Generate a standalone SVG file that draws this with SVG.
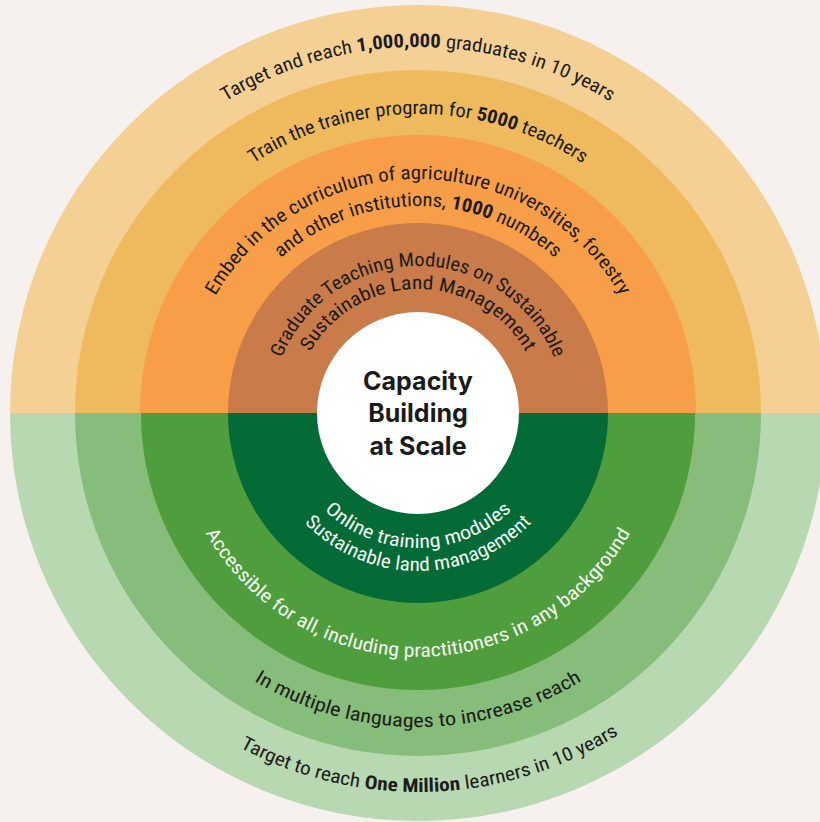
<svg xmlns="http://www.w3.org/2000/svg" width="820" height="822" viewBox="0 0 820 822">
  <style>
    .lbl { font-family: Roboto, "Noto Sans", "Liberation Sans", sans-serif; font-size: 19px; font-stretch: condensed; fill: #1c1c1c; }
    .wht { fill: #f2f7f0; }
    .b { font-weight: 700; }
    .ctr { font-family: Inter, "Noto Sans", "Liberation Sans", sans-serif; font-size: 25px; font-weight: 700; fill: #1a1a1a; text-anchor: middle; }
  </style>
  <defs>
    <path id="pT1" d="M 52 413 A 366 366 0 0 1 784 413"/>
    <path id="pT2" d="M 119 413 A 299 299 0 0 1 717 413"/>
    <path id="pT3a" d="M 184 413 A 234 234 0 0 1 652 413"/>
    <path id="pT3b" d="M 211 413 A 207 207 0 0 1 625 413"/>
    <path id="pT4a" d="M 271 413 A 147 147 0 0 1 565 413"/>
    <path id="pT4b" d="M 294 413 A 124 124 0 0 1 542 413"/>
    <path id="pB4a" d="M 283 413 A 135 135 0 0 0 553 413"/>
    <path id="pB4b" d="M 260 413 A 158 158 0 0 0 576 413"/>
    <path id="pB3" d="M 174 413 A 244 244 0 0 0 662 413"/>
    <path id="pB2" d="M 104 413 A 314 314 0 0 0 732 413"/>
    <path id="pB1" d="M 39 413 A 379 379 0 0 0 797 413"/>
  </defs>
  <rect width="820" height="822" fill="#f6f1ee"/>

  <g id="ring1">
    <path d="M 10 413 A 408 408 0 0 1 826 413 Z" fill="#f5d094"/>
    <path d="M 10 413 A 408 408 0 0 0 826 413 Z" fill="#b8d8b2"/>
  </g>
  <g id="ring2">
    <path d="M 75 413 A 343 343 0 0 1 761 413 Z" fill="#efba5e"/>
    <path d="M 75 413 A 343 343 0 0 0 761 413 Z" fill="#86bd7a"/>
  </g>
  <g id="ring3">
    <path d="M 140 413 A 278 278 0 0 1 696 413 Z" fill="#f89e49"/>
    <path d="M 141 413 A 277 277 0 0 0 695 413 Z" fill="#4f9d3d"/>
  </g>
  <g id="ring4">
    <path d="M 228 413 A 190 190 0 0 1 608 413 Z" fill="#c97b4a"/>
    <path d="M 228 413 A 190 190 0 0 0 608 413 Z" fill="#046a36"/>
  </g>
  <g id="center">
    <circle cx="418" cy="413" r="101" fill="#ffffff"/>
    <text class="ctr" x="418" y="390">Capacity</text>
    <text class="ctr" x="418" y="422">Building</text>
    <text class="ctr" x="418" y="455">at Scale</text>
  </g>

  <g id="top-labels">
    <text class="lbl"><textPath href="#pT1" startOffset="50%" text-anchor="middle" textLength="405" lengthAdjust="spacingAndGlyphs">Target and reach <tspan class="b">1,000,000</tspan> graduates in 10 years</textPath></text>
    <text class="lbl"><textPath href="#pT2" startOffset="50%" text-anchor="middle" textLength="349" lengthAdjust="spacingAndGlyphs">Train the trainer program for <tspan class="b">5000</tspan> teachers</textPath></text>
    <text class="lbl"><textPath href="#pT3a" startOffset="50%" text-anchor="middle" textLength="490" lengthAdjust="spacingAndGlyphs">Embed in the curriculum of agriculture universities, forestry</textPath></text>
    <text class="lbl"><textPath href="#pT3b" startOffset="50%" text-anchor="middle" textLength="300" lengthAdjust="spacingAndGlyphs">and other institutions, <tspan class="b">1000</tspan> numbers</textPath></text>
    <text class="lbl"><textPath href="#pT4a" startOffset="50%" text-anchor="middle" textLength="349" lengthAdjust="spacingAndGlyphs">Graduate Teaching Modules on Sustainable</textPath></text>
    <text class="lbl"><textPath href="#pT4b" startOffset="50%" text-anchor="middle" textLength="262" lengthAdjust="spacingAndGlyphs">Sustainable Land Management</textPath></text>
  </g>

  <g id="bottom-labels">
    <text class="lbl wht"><textPath href="#pB4a" startOffset="50%" text-anchor="middle" textLength="207" lengthAdjust="spacingAndGlyphs">Online training modules</textPath></text>
    <text class="lbl wht"><textPath href="#pB4b" startOffset="50%" text-anchor="middle" textLength="254" lengthAdjust="spacingAndGlyphs">Sustainable land management</textPath></text>
    <text class="lbl wht"><textPath href="#pB3" startOffset="50%" text-anchor="middle" textLength="516" lengthAdjust="spacingAndGlyphs">Accessible for all, including practitioners in any background</textPath></text>
    <text class="lbl"><textPath href="#pB2" startOffset="50%" text-anchor="middle" textLength="345" lengthAdjust="spacingAndGlyphs">In multiple languages to increase reach</textPath></text>
    <text class="lbl"><textPath href="#pB1" startOffset="51.1%" text-anchor="middle" textLength="397" lengthAdjust="spacingAndGlyphs">Target to reach <tspan class="b">One Million</tspan> learners in 10 years</textPath></text>
  </g>
</svg>
